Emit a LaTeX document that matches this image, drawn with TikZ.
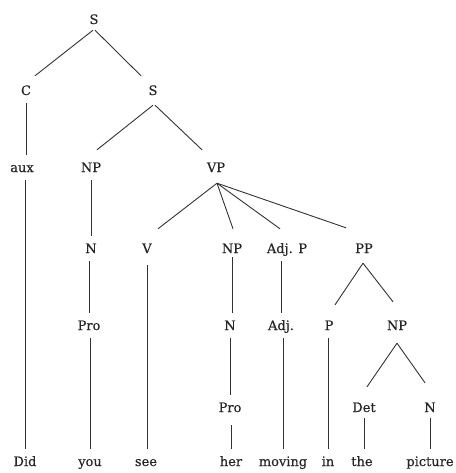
\documentclass[tikz,border=0pt]{standalone}
\usepackage{fontspec}
\setmainfont[FakeBold=0.4]{DejaVu Serif}
\begin{document}
\begin{tikzpicture}[x=1pt,y=-1pt,
  lbl/.style={anchor=base, font=\fontsize{13pt}{15pt}\selectfont, text height=12pt, text depth=3pt, inner ysep=5pt, inner xsep=0pt, text=black!85},
  edge/.style={draw=black!80, line width=0.9pt}]
\useasboundingbox (0,0) rectangle (455,473);
% labels
\node[lbl] (S)    at (94,24)   {S};
\node[lbl] (C)    at (26,95)   {C};
\node[lbl] (S2)   at (153,95)  {S};
\node[lbl] (aux)  at (22,172)  {aux};
\node[lbl] (NP)   at (91,172)  {NP};
\node[lbl] (VP)   at (216,172) {VP};
\node[lbl] (N1)   at (91,253)  {N};
\node[lbl] (V)    at (147,253) {V};
\node[lbl] (NP2)  at (232,253) {NP};
\node[lbl] (AdjP) at (287,253) {Adj. P};
\node[lbl] (PP)   at (364,253) {PP};
\node[lbl] (Pro1) at (89,330)  {Pro};
\node[lbl] (N2)   at (230,330) {N};
\node[lbl] (Adj)  at (281,330) {Adj.};
\node[lbl] (P)    at (329,330) {P};
\node[lbl] (NP3)  at (397,330) {NP};
\node[lbl] (Pro2) at (230,412) {Pro};
\node[lbl] (Det)  at (364,412) {Det};
\node[lbl] (N3)   at (430,412) {N};
% words
\node[lbl] (did)  at (25,466)  {Did};
\node[lbl] (you)  at (90,466)  {you};
\node[lbl] (see)  at (146,466) {see};
\node[lbl] (her)  at (231,466) {her};
\node[lbl] (mov)  at (283,466) {moving};
\node[lbl] (in)   at (328,466) {in};
\node[lbl] (the)  at (362,466) {the};
\node[lbl] (pic)  at (430,466) {picture};
% diagonal edges
\draw[edge] ([shift={(-1,-2)}]S.south) -- ([shift={(9,-2)}]C.north);
\draw[edge] ([shift={(1,-2)}]S.south) -- ([shift={(-12,-2)}]S2.north);
\draw[edge] ([shift={(0,2)}]S2.south) -- ([shift={(6,-5)}]NP.north);
\draw[edge] ([shift={(2,2)}]S2.south) -- ([shift={(-14,-5)}]VP.north);
\draw[edge] ([shift={(1,3)}]VP.south) -- ([shift={(11,-7)}]V.north);
\draw[edge] ([shift={(1,3)}]VP.south) -- ([shift={(1,-7)}]NP2.north);
\draw[edge] ([shift={(1,3)}]VP.south) -- ([shift={(-7,-7)}]AdjP.north);
\draw[edge] ([shift={(1,3)}]VP.south) -- ([shift={(-18,-8)}]PP.north);
\draw[edge] ([shift={(-1,2)}]PP.south) -- ([shift={(6,-8)}]P.north);
\draw[edge] ([shift={(-1,2)}]PP.south) -- ([shift={(-4,-11)}]NP3.north);
\draw[edge] ([shift={(0,5)}]NP3.south) -- ([shift={(3,-8)}]Det.north);
\draw[edge] ([shift={(0,5)}]NP3.south) -- ([shift={(-5,-12)}]N3.north);
% vertical edges
\draw[edge] (C.south) -- (C.south |- aux.north);
\draw[edge] (did.north |- aux.south) -- (did.north);
\draw[edge] (NP.south) -- (NP.south |- N1.north);
\draw[edge] (Pro1.north |- N1.south) -- (Pro1.north);
\draw[edge] (you.north |- Pro1.south) -- (you.north);
\draw[edge] ([yshift=-4pt]V.south) -- (V.south |- see.north);
\draw[edge] ([yshift=4pt]NP2.south) -- (NP2.south |- N2.north);
\draw[edge] (N2.south) -- (N2.south |- Pro2.north);
\draw[edge] ([yshift=-5pt]her.north |- Pro2.south) -- (her.north);
\draw[edge] (Adj.north |- AdjP.south) -- (Adj.north);
\draw[edge] (mov.north |- Adj.south) -- (mov.north);
\draw[edge] (in.north |- P.south) -- (in.north);
\draw[edge] ([yshift=2pt]Det.south) -- (Det.south |- the.north);
\draw[edge] ([yshift=2pt]N3.south) -- (N3.south |- pic.north);
\end{tikzpicture}
\end{document}
